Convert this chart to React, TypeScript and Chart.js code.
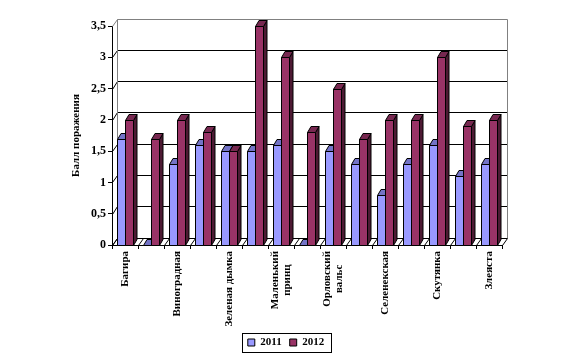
import React, { useEffect, useRef } from 'react';
import { Chart, registerables } from 'chart.js';

Chart.register(...registerables);

// ---------- data ----------
const categories: string[] = [
  'Багира', '', 'Виноградная', '', 'Зеленая дымка', '', 'Маленький\nпринц', '',
  'Орловский\nвальс', '', 'Селенекская', '', 'Скутянка', '', 'Злеяста',
];
const values2011: number[] = [1.7, 0, 1.3, 1.6, 1.5, 1.5, 1.6, 0, 1.5, 1.3, 0.8, 1.3, 1.6, 1.1, 1.3];
const values2012: number[] = [2.0, 1.7, 2.0, 1.8, 1.5, 3.5, 3.0, 1.8, 2.5, 1.7, 2.0, 2.0, 3.0, 1.9, 2.0];
const seriesNames: string[] = ['2011', '2012'];
const yTickValues: number[] = [0, 0.5, 1, 1.5, 2, 2.5, 3, 3.5];
const yTitle = 'Балл поражения';

// ---------- style ----------
const FRONT = ['#9999FF', '#993366'];
const TOP = ['#7373C6', '#772850'];
const SIDE = ['#4D4D80', '#4D1A33'];
const FONT = "'Liberation Serif'";
const WALL_DX = 5;
const WALL_DY = -7.5;
const BAR_DX = 3.5;
const BAR_DY = -6;

const snap = (v: number) => Math.round(v) + 0.5;

const threeD = {
  id: 'threeD',
  beforeDatasetsDraw(chart: any) {
    const { ctx, chartArea: a, scales } = chart;
    const x = scales.x;
    const y = scales.y;
    ctx.save();
    ctx.lineWidth = 1;
    const L = snap(a.left);
    const BL = snap(a.left + WALL_DX);
    const BR = snap(a.right + WALL_DX);
    const topV = yTickValues[yTickValues.length - 1];
    yTickValues.forEach((v) => {
      const py = y.getPixelForValue(v);
      const fy = snap(py);
      const by = snap(py + WALL_DY);
      ctx.strokeStyle = v === topV ? '#808080' : '#000000';
      ctx.beginPath();
      ctx.moveTo(L, fy);
      ctx.lineTo(BL, by);
      ctx.lineTo(BR, by);
      ctx.stroke();
    });
    const wallTop = snap(y.getPixelForValue(topV) + WALL_DY);
    const wallBot = snap(y.getPixelForValue(0) + WALL_DY);
    ctx.strokeStyle = '#808080';
    ctx.beginPath();
    ctx.moveTo(BL, wallTop);
    ctx.lineTo(BL, wallBot);
    ctx.moveTo(BR, wallTop);
    ctx.lineTo(BR, wallBot);
    ctx.stroke();
    ctx.strokeStyle = '#000000';
    const fb = snap(y.getPixelForValue(0));
    ctx.beginPath();
    for (let i = 0; i <= categories.length; i++) {
      const px = snap(x.getPixelForValue(i - 0.5));
      ctx.moveTo(px, fb);
      ctx.lineTo(px + WALL_DX, wallBot);
    }
    ctx.stroke();
    ctx.restore();
  },
  afterDatasetsDraw(chart: any) {
    const { ctx } = chart;
    const metas = chart.data.datasets.map((_: any, d: number) => chart.getDatasetMeta(d));
    ctx.save();
    ctx.lineWidth = 1;
    ctx.strokeStyle = '#000000';
    const poly = (pts: number[][], fill: string) => {
      ctx.beginPath();
      ctx.moveTo(pts[0][0], pts[0][1]);
      for (let k = 1; k < pts.length; k++) ctx.lineTo(pts[k][0], pts[k][1]);
      ctx.closePath();
      ctx.fillStyle = fill;
      ctx.fill();
      ctx.stroke();
    };
    for (let i = 0; i < categories.length; i++) {
      metas.forEach((meta: any, d: number) => {
        const el = meta.data[i];
        if (!el) return;
        const p = el.getProps(['x', 'y', 'base', 'width'], true);
        const l = snap(p.x - p.width / 2);
        const r = snap(p.x + p.width / 2);
        const t = snap(p.y);
        const b = snap(p.base);
        poly([[r, b], [r + BAR_DX, b + BAR_DY], [r + BAR_DX, t + BAR_DY], [r, t]], SIDE[d]);
        poly([[l, t], [l + BAR_DX, t + BAR_DY], [r + BAR_DX, t + BAR_DY], [r, t]], TOP[d]);
        if (b - t > 0.5) poly([[l, t], [r, t], [r, b], [l, b]], FRONT[d]);
      });
    }
    ctx.restore();
  },
  afterDraw(chart: any) {
    const { ctx, chartArea: a, scales } = chart;
    const x = scales.x;
    ctx.save();
    ctx.font = `bold 11px ${FONT}`;
    ctx.fillStyle = '#000000';
    ctx.textBaseline = 'middle';
    ctx.textAlign = 'center';
    const lineH = 12;
    categories.forEach((label, i) => {
      if (!label) return;
      const lines = label.split('\n');
      const maxW = Math.max(...lines.map((s) => ctx.measureText(s).width));
      const px = x.getPixelForValue(i);
      ctx.save();
      ctx.translate(px, a.bottom + 6);
      ctx.rotate(-Math.PI / 2);
      lines.forEach((s, k) => {
        const v = (k - (lines.length - 1) / 2) * lineH;
        ctx.fillText(s, -maxW / 2, v);
      });
      ctx.restore();
    });
    const lg = chart.legend;
    if (lg && lg.legendHitBoxes && lg.legendHitBoxes.length) {
      const hb = lg.legendHitBoxes;
      const minX = Math.min(...hb.map((h: any) => h.left));
      const maxX = Math.max(...hb.map((h: any) => h.left + h.width));
      const cy = hb[0].top + hb[0].height / 2;
      ctx.strokeStyle = '#000000';
      ctx.lineWidth = 1;
      ctx.strokeRect(snap(minX - 6), snap(cy - 9.5), Math.round(maxX - minX + 13), 19);
    }
    ctx.restore();
  },
};

export default function App() {
  const ref = useRef<HTMLCanvasElement | null>(null);
  useEffect(() => {
    if (!ref.current) return;
    const chart = new Chart(ref.current, {
      type: 'bar',
      data: {
        labels: categories,
        datasets: [
          {
            label: seriesNames[0],
            data: values2011,
            backgroundColor: FRONT[0],
            borderColor: '#000000',
            borderWidth: 1,
            borderSkipped: false,
          },
          {
            label: seriesNames[1],
            data: values2012,
            backgroundColor: FRONT[1],
            borderColor: '#000000',
            borderWidth: 1,
            borderSkipped: false,
          },
        ],
      },
      options: {
        responsive: false,
        animation: false,
        events: [],
        layout: { padding: { left: 70, right: 72, top: 26, bottom: 3 } },
        datasets: { bar: { categoryPercentage: 0.58, barPercentage: 1 } },
        scales: {
          x: {
            offset: true,
            grid: {
              offset: true,
              drawOnChartArea: false,
              drawTicks: true,
              tickLength: 4,
              tickColor: '#000000',
            },
            border: { display: true, color: '#000000', width: 1 },
            ticks: { display: false },
            afterFit: (s: any) => {
              s.height = 84;
            },
          },
          y: {
            min: 0,
            max: 3.5,
            afterBuildTicks: (s: any) => {
              s.ticks = yTickValues.map((v) => ({ value: v }));
            },
            grid: {
              drawOnChartArea: false,
              drawTicks: true,
              tickLength: 4,
              tickColor: '#000000',
            },
            border: { display: true, color: '#000000', width: 1 },
            ticks: {
              color: '#000000',
              padding: 2,
              font: { family: FONT, size: 12, weight: 'bold' },
              callback: (v: any) => String(v).replace('.', ','),
            },
            title: {
              display: true,
              text: yTitle,
              color: '#000000',
              padding: 0,
              font: { family: FONT, size: 11, weight: 'bold' },
            },
            afterFit: (s: any) => {
              s.width = 42;
            },
          },
        },
        plugins: {
          legend: {
            position: 'bottom',
            labels: {
              boxWidth: 7,
              boxHeight: 7,
              padding: 8,
              color: '#000000',
              font: { family: FONT, size: 11, weight: 'bold' },
            },
          },
          tooltip: { enabled: false },
        },
      },
      plugins: [threeD],
    } as any);
    return () => chart.destroy();
  }, []);
  return (
    <div style={{ position: 'fixed', left: 0, top: 0, width: 574, height: 361, background: '#fff' }}>
      <canvas ref={ref} width={574} height={361} style={{ display: 'block' }} />
    </div>
  );
}
